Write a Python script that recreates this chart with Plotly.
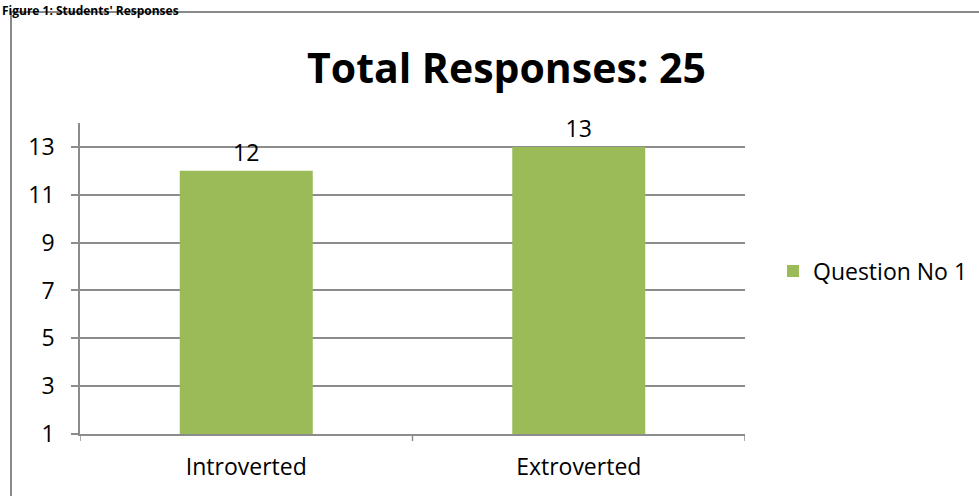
import plotly.graph_objects as go

# Survey results
categories = ["Introverted", "Extroverted"]
responses = [12, 13]
series_name = "Question No 1"
y_ticks = [1, 3, 5, 7, 9, 11, 13]
chart_title = "Total Responses: 25"
figure_caption = "Figure 1: Students' Responses"

W, H = 979, 496
L, R, T, B = 80, 234, 123, 62
pw, ph = W - L - R, H - T - B


def px_x(x):
    return (x - L) / pw


def px_y(y):
    return 1 + (T - y) / ph


FONT = "'Open Sans', Lato, sans-serif"
GRID = "#8c8c8c"
TXT = 23

fig = go.Figure(
    go.Bar(
        x=categories,
        y=[v - 1 for v in responses],
        base=1,
        name=series_name,
        marker=dict(color="#9BBB59", line=dict(width=0)),
        width=0.4,
        text=[str(v) for v in responses],
        textposition="outside",
        cliponaxis=False,
        textfont=dict(size=TXT, color="#000000", family=FONT),
        showlegend=True,
    )
)

fig.update_layout(
    width=W,
    height=H,
    margin=dict(l=L, r=R, t=T, b=B, pad=0, autoexpand=False),
    paper_bgcolor="white",
    plot_bgcolor="white",
    font=dict(family=FONT, size=TXT, color="#000000"),
    showlegend=True,
    legend=dict(
        x=px_x(773),
        y=px_y(271),
        xanchor="left",
        yanchor="middle",
        font=dict(size=TXT, family=FONT),
        itemwidth=30,
        bgcolor="rgba(0,0,0,0)",
    ),
    xaxis=dict(
        showgrid=False,
        showline=True,
        linecolor=GRID,
        linewidth=1.5,
        ticks="",
        tickfont=dict(size=TXT),
        ticklabelstandoff=12,
    ),
    yaxis=dict(
        range=[1, 14],
        tickvals=y_ticks,
        showgrid=True,
        gridcolor=GRID,
        gridwidth=1.5,
        showline=True,
        linecolor=GRID,
        linewidth=1.5,
        ticks="outside",
        ticklen=7,
        tickcolor=GRID,
        tickwidth=1.5,
        zeroline=False,
        tickfont=dict(size=TXT),
        ticklabelstandoff=12,
    ),
    annotations=[
        dict(
            text="<b>" + chart_title + "</b>",
            x=px_x(506),
            y=px_y(67),
            xref="paper",
            yref="paper",
            xanchor="center",
            yanchor="middle",
            showarrow=False,
            font=dict(size=41, family=FONT, color="#000000"),
        ),
        dict(
            text="<b>" + figure_caption + "</b>",
            x=px_x(0),
            y=px_y(0),
            xref="paper",
            yref="paper",
            xanchor="left",
            yanchor="top",
            showarrow=False,
            font=dict(size=12, family=FONT, color="#000000"),
        ),
    ],
    shapes=[
        # outer chart frame
        dict(
            type="rect",
            xref="paper",
            yref="paper",
            x0=px_x(11),
            x1=px_x(1000),
            y0=px_y(520),
            y1=px_y(12),
            line=dict(color="#8a8a8a", width=2),
            fillcolor="rgba(0,0,0,0)",
            layer="below",
        ),
    ]
    + [
        # category divider ticks below the x axis
        dict(
            type="line",
            xref="x",
            yref="paper",
            x0=i - 0.5,
            x1=i - 0.5,
            y0=0,
            y1=-7 / ph,
            line=dict(color=GRID, width=1.5),
        )
        for i in range(len(categories) + 1)
    ],
)
fig.update_xaxes(range=[-0.5, len(categories) - 0.5])

fig.write_html("out.html")
